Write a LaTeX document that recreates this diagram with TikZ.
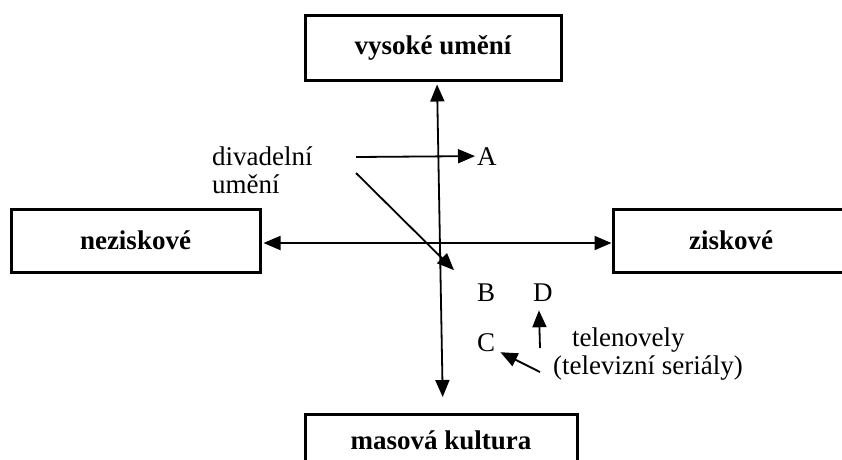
\documentclass[tikz,border=0pt]{standalone}
\usepackage{fontspec}
\setmainfont{Liberation Serif}
\usetikzlibrary{arrows.meta}
\begin{document}
\begin{tikzpicture}[x=1pt,y=-1pt,
  box/.style={draw,line width=3pt,minimum width=#1,minimum height=63pt,inner sep=0pt,
    font=\fontsize{27}{30}\selectfont\bfseries},
  box/.default=249pt,
  lbl/.style={inner sep=0pt,font=\fontsize{27}{28}\selectfont},
  arr/.style={line width=1.8pt,-{Triangle[length=17pt,width=14pt]}},
  darr/.style={line width=1.8pt,{Triangle[length=17pt,width=14pt]}-{Triangle[length=17pt,width=14pt]}}]
  \clip (0,0) rectangle (842,459);
  \useasboundingbox (0,0) rectangle (842,459);

  % the four poles
  \node[box=256pt,minimum height=65pt] (vysoke) at (433,47.5) {vysoké umění};
  \node[box] (nezisk) at (135.5,240.5) {neziskové};
  \node[box=236pt] (zisk) at (731,240.5) {ziskové};
  \node[box=272pt,minimum height=65pt,anchor=north,text height=19pt,text depth=14pt]
    (masova) at (441,413) {masová kultura};

  % axes
  \draw[darr,shorten <=3pt,shorten >=16pt] ([xshift=4pt]vysoke.south) -- ([xshift=2pt]masova.north);
  \draw[darr,shorten <=2pt] ([yshift=-2.5pt]nezisk.east) -- ([yshift=-2.5pt]zisk.west);

  % labels (the base of a two-line label is its last line)
  \node[lbl,anchor=base west,align=left] (divadlo) at (212,193) {divadelní\\umění};
  \node[lbl,anchor=base west,inner sep=2pt] (A) at (475,165) {A};
  \node[lbl,anchor=base west] (B) at (477,301) {B};
  \node[lbl,anchor=base west] (D) at (533,301) {D};
  \node[lbl,anchor=base west] (C) at (477,351) {C};
  \node[lbl,anchor=base west,align=left] (tele) at (553,374) {\hspace*{19pt}telenovely\\(televizní seriály)};

  % arrow tails
  \coordinate (tA) at (356,157);
  \coordinate (tB) at (356,173);
  \coordinate (tD) at (540,348);
  \coordinate (tC) at (540,372);

  \draw[arr] (tA) -- (A.west);
  \draw[arr] (tB) -- ([xshift=-23pt,yshift=13pt]B.north west);
  \draw[arr] (tD) -- ([xshift=-4pt,yshift=-9pt]D.south);
  \draw[arr] (tC) -- ([xshift=5pt,yshift=-10pt]C.east);
\end{tikzpicture}
\end{document}
